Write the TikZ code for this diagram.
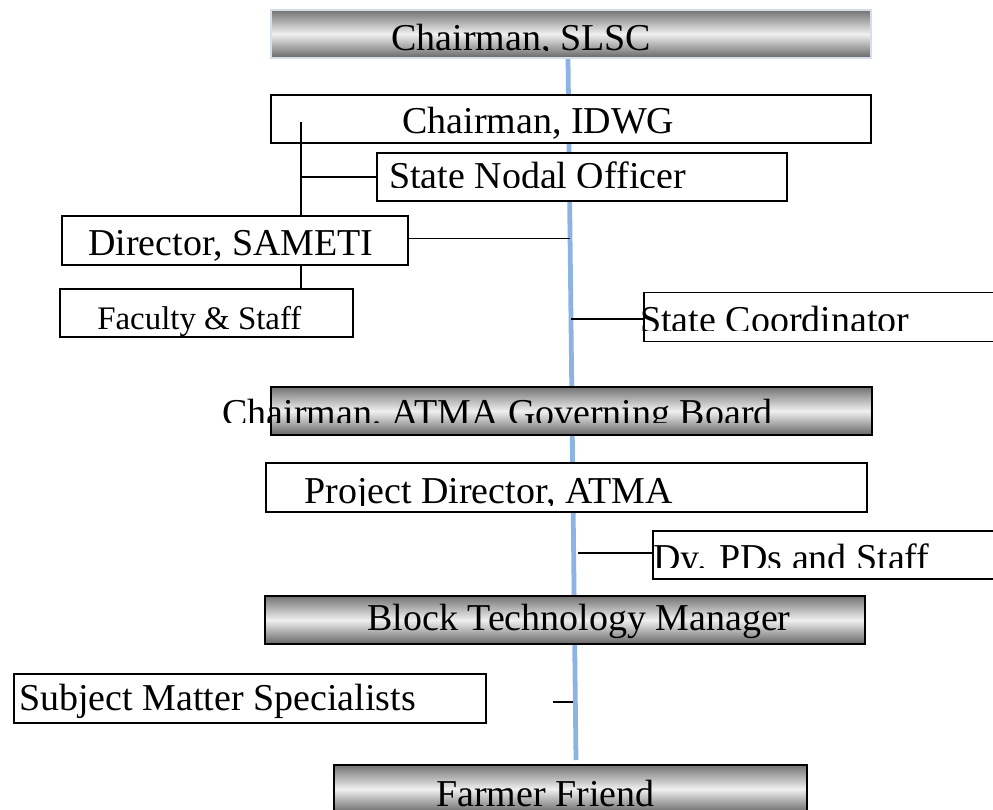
\documentclass[tikz,border=0pt]{standalone}
\usepackage{fontspec}
\setmainfont{Liberation Serif}
\usepackage{xcolor}
\usepackage{tikz}
\usetikzlibrary{positioning, calc}

\definecolor{spineblue}{HTML}{8DB3E2}
\definecolor{rimblue}{HTML}{D5DFEC}

\tikzset{
  plainbox/.style={draw=black, line width=1.4pt, fill=white, inner sep=0pt, minimum height=1.2cm},
  metalbox/.style={draw=black, line width=1.4pt, inner sep=0pt, minimum height=1.2cm,
    top color=black!55, bottom color=black!60, middle color=black!6},
  lbl/.style={anchor=base west, inner sep=0pt, font=\fontsize{27}{30}\selectfont},
  spine/.style={draw=spineblue, line width=3.4pt},
  link/.style={draw=black, line width=1.3pt},
}

\begin{document}
\begin{tikzpicture}[x=0.025cm, y=-0.025cm]
\clip (0,0) rectangle (993,809);

% blue spine behind the boxes
\coordinate (spinetop) at (568,58);
\coordinate (spinebot) at (576,760);
\draw[spine] (spinetop) -- (spinebot);

% state level
\node[metalbox, draw=rimblue, minimum width=15cm] (slsc) at (571,34) {};
\node[plainbox, minimum width=15cm] (idwg) at (571,119) {};
\node[plainbox, minimum width=10.25cm] (nodal) at (582,177) {};
\node[plainbox, minimum width=8.65cm, minimum height=1.225cm] (sameti) at (235,240.5) {};
\node[plainbox, minimum width=7.325cm] (faculty) at (206.5,313) {};
\node[plainbox, minimum width=9cm, minimum height=1.225cm] (coord) at (824,317) {};

% district and block level
\node[metalbox, minimum width=15cm] (board) at (571.5,411) {};
\node[plainbox, minimum width=15cm, minimum height=1.225cm] (pd) at (566.5,487.5) {};
\node[plainbox, minimum width=9cm] (dypd) at (833,555) {};
\node[metalbox, minimum width=15cm] (btm) at (565,620) {};
\node[plainbox, minimum width=11.8cm, minimum height=1.225cm] (sms) at (250,698.5) {};
\node[metalbox, minimum width=11.825cm] (farmer) at (570.5,789) {};

% connectors
\coordinate (idwgtap) at (301,122);
\coordinate (smstap) at (553,702);
\draw[link] (idwgtap) -- (idwgtap |- sameti.north);
\draw[link] (nodal.west -| idwgtap) -- (nodal.west);
\draw[link] (sameti.south -| idwgtap) -- (faculty.north -| idwgtap);
\draw[link] ($(sameti.east)+(0,-2)$) -- ($(sameti.east -| spinetop)+(2,-2)$);
\draw[link] ($(coord.west -| spinetop)+(3,2)$) -- ($(coord.west)+(0,2)$);
\draw[link] ($(dypd.west -| spinebot)+(2,-2)$) -- ($(dypd.west)+(0,-2)$);
\draw[link] (smstap) -- ($(smstap -| spinebot)+(-3,0)$);

% labels, some cut off at the bottom
\begin{scope}
  \clip (271,10) rectangle (871,50);
  \node[lbl] (slsctxt) at (391,50.5) {Chairman, SLSC};
\end{scope}
\node[lbl] (idwgtxt) at (402,133) {Chairman, IDWG};
\begin{scope}
  \clip (377,153) rectangle (787,187);
  \node[lbl] (nodaltxt) at (389,188) {State Nodal Officer};
\end{scope}
\node[lbl] (sametitxt) at (88,255) {Director, SAMETI};
\node[lbl, font=\fontsize{23.4}{26}\selectfont] (facultytxt) at (97,329) {Faculty \& Staff};
\begin{scope}
  \clip (600,292) rectangle (993,330);
  \node[lbl] (coordtxt) at (640,332) {State Coordinator};
\end{scope}
\begin{scope}
  \clip (200,387) rectangle (900,422);
  \node[lbl] (boardtxt) at (222,425) {Chairman, ATMA Governing Board};
\end{scope}
\begin{scope}
  \clip (267,463) rectangle (866,505);
  \node[lbl] (pdtxt) at (304,503) {Project Director, ATMA};
\end{scope}
\begin{scope}
  \clip (640,531) rectangle (993,567);
  \node[lbl] (dypdtxt) at (653,570) {Dy. PDs and Staff};
\end{scope}
\node[lbl] (btmtxt) at (367,630) {Block Technology Manager};
\node[lbl] (smstxt) at (19,710) {Subject Matter Specialists};
\node[lbl] (farmertxt) at (436,806) {Farmer Friend};
\end{tikzpicture}
\end{document}
